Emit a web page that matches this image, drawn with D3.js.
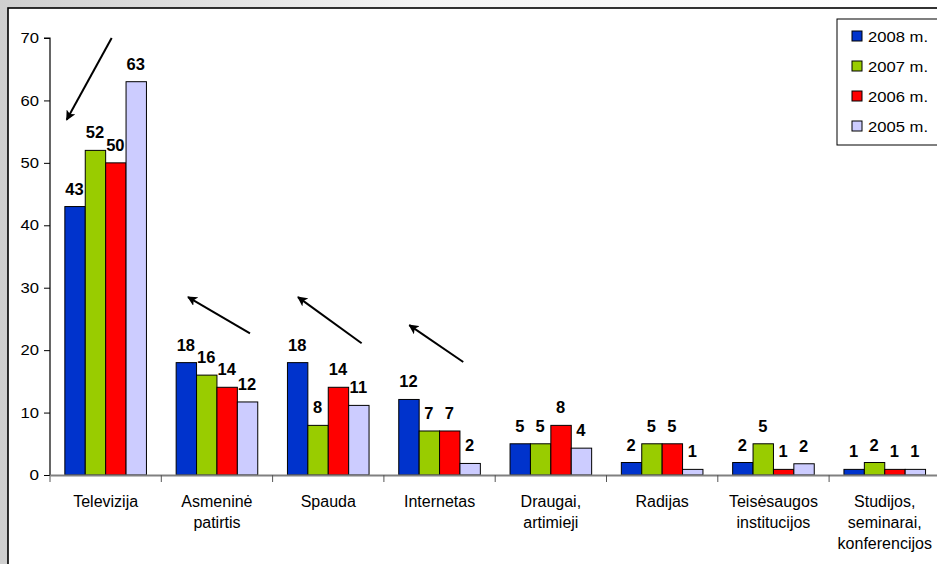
<!DOCTYPE html>
<html>
<head>
<meta charset="utf-8">
<script src="https://cdn.jsdelivr.net/npm/d3@7"></script>
<style>
  html, body { margin: 0; padding: 0; background: #fff; }
  svg { display: block; }
  text { font-family: Arial, "Liberation Sans", sans-serif; }
</style>
</head>
<body>
<svg id="chart" width="937" height="564"></svg>
<script>
// ---- data ----
const categories = ["Televizija", "Asmeninė patirtis", "Spauda", "Internetas", "Draugai, artimieji", "Radijas", "Teisėsaugos institucijos", "Studijos, seminarai, konferencijos"];
const categoryLines = [["Televizija"], ["Asmeninė", "patirtis"], ["Spauda"], ["Internetas"], ["Draugai,", "artimieji"], ["Radijas"], ["Teisėsaugos", "institucijos"], ["Studijos,", "seminarai,", "konferencijos"]];
const seriesNames = ["2008 m.", "2007 m.", "2006 m.", "2005 m."];
const v2008 = [43, 18, 18, 12.1, 5, 2, 2, 0.9];
const v2007 = [52, 16, 7.95, 7.05, 5, 5, 5, 2];
const v2006 = [50, 14.05, 14.05, 7.05, 7.95, 5, 0.9, 0.9];
const v2005 = [63, 11.7, 11.15, 1.85, 4.3, 0.9, 1.8, 0.9];
const seriesColors = ["#0033CC", "#99CC00", "#FF0000", "#CCCCFF"];
const yTicks = [0, 10, 20, 30, 40, 50, 60, 70];
// annotation arrows: category, fraction across band, value
const arrowCats = ["Televizija", "Asmeninė patirtis", "Spauda", "Internetas"];
const arrowFrom = [[0.554, 70.0], [0.797, 22.7], [0.80, 21.1], [0.713, 18.1]];
const arrowTo = [[0.15, 56.9], [0.24, 28.5], [0.228, 28.5], [0.228, 24.0]];

const seriesValues = [v2008, v2007, v2006, v2005];

const svg = d3.select("#chart");
const W = 937, H = 564;

// background gradient outside frame
const defs = svg.append("defs");
const grad = defs.append("linearGradient").attr("id", "bg").attr("x1", "0").attr("x2", "1").attr("y1", "0").attr("y2", "0");
grad.append("stop").attr("offset", "0").attr("stop-color", "#cfcfcf");
grad.append("stop").attr("offset", "0.45").attr("stop-color", "#f4f4f4");
grad.append("stop").attr("offset", "1").attr("stop-color", "#ffffff");
defs.append("marker").attr("id", "arrowhead").attr("viewBox", "0 0 10 10")
  .attr("refX", 9).attr("refY", 5).attr("markerWidth", 5).attr("markerHeight", 5)
  .attr("markerUnits", "strokeWidth").attr("orient", "auto")
  .append("path").attr("d", "M0,0 L10,5 L0,10 L2.5,5 Z").attr("fill", "#000");

svg.append("rect").attr("x", 0).attr("y", 0).attr("width", W).attr("height", H).attr("fill", "url(#bg)");
// chart frame
svg.append("rect").attr("x", 8).attr("y", 8).attr("width", 960).attr("height", 600)
  .attr("fill", "#fff").attr("stroke", "#000").attr("stroke-width", 1.6);

// scales
const x0 = d3.scaleBand().domain(categories).range([50, 50 + 8 * 111.3]).paddingInner(0).paddingOuter(0);
const x1 = d3.scaleBand().domain(seriesNames).range([0, x0.bandwidth()]).paddingInner(0).paddingOuter(0.728);
const y = d3.scaleLinear().domain([0, 70]).range([475, 38]);

// y axis
const yAxis = svg.append("g").attr("transform", "translate(50,0)")
  .call(d3.axisLeft(y).tickValues(yTicks).tickSize(6).tickPadding(5).tickFormat(d3.format("d")));
yAxis.select(".domain").attr("stroke", "#000").attr("stroke-width", 1.2).attr("d", `M-6,${y(70)}H0V${y(0)}`);
yAxis.selectAll(".tick line").attr("stroke", "#000");
yAxis.selectAll(".tick text").attr("font-size", 14.5).attr("fill", "#000")
  .attr("font-family", "Arial, 'Liberation Sans', sans-serif")
  .attr("textLength", d => d === 0 ? 9.5 : 18.5).attr("lengthAdjust", "spacingAndGlyphs");

// bars
const groups = svg.append("g").selectAll("g").data(categories).join("g")
  .attr("transform", d => `translate(${x0(d)},0)`);
groups.selectAll("rect").data((c, ci) => seriesNames.map((s, si) => ({ s, si, v: seriesValues[si][ci] })))
  .join("rect")
  .attr("x", d => x1(d.s)).attr("width", x1.bandwidth())
  .attr("y", d => y(d.v)).attr("height", d => y(0) - y(d.v))
  .attr("fill", d => seriesColors[d.si]).attr("stroke", "#000").attr("stroke-width", 1);
groups.selectAll("text.val").data((c, ci) => seriesNames.map((s, si) => ({ s, si, v: seriesValues[si][ci] })))
  .join("text").attr("class", "val")
  .attr("x", d => x1(d.s) + x1.bandwidth() / 2 - 0.5).attr("y", d => y(d.v) - 12)
  .attr("text-anchor", "middle").attr("font-size", 16.5).attr("font-weight", "bold").attr("fill", "#000")
  .text(d => d3.format(".0f")(d.v));

// x axis
const xAxis = svg.append("g").attr("transform", `translate(0,${y(0)})`)
  .call(d3.axisBottom(x0).tickSize(0).tickFormat(""));
xAxis.select(".domain").attr("stroke", "#808080").attr("stroke-width", 2);
const boundaries = categories.map(c => x0(c));
svg.append("g").selectAll("line").data(boundaries).join("line")
  .attr("x1", d => d).attr("x2", d => d).attr("y1", y(0)).attr("y2", y(0) + 7)
  .attr("stroke", "#555").attr("stroke-width", 1);

// category labels
const catLabels = svg.append("g").selectAll("text").data(categories).join("text")
  .attr("x", d => x0(d) + x0.bandwidth() / 2).attr("y", 507)
  .attr("text-anchor", "middle").attr("font-size", 16).attr("fill", "#000");
catLabels.each(function (d, i) {
  const t = d3.select(this);
  categoryLines[i].forEach((line, li) => {
    t.append("tspan").attr("x", x0(d) + x0.bandwidth() / 2).attr("y", 507 + li * 20.8).text(line);
  });
});

// annotation arrows
svg.append("g").selectAll("line").data(arrowCats).join("line")
  .attr("x1", (c, i) => x0(c) + arrowFrom[i][0] * x0.bandwidth())
  .attr("y1", (c, i) => y(arrowFrom[i][1]))
  .attr("x2", (c, i) => x0(c) + arrowTo[i][0] * x0.bandwidth())
  .attr("y2", (c, i) => y(arrowTo[i][1]))
  .attr("stroke", "#000").attr("stroke-width", 2).attr("marker-end", "url(#arrowhead)");

// legend
const legend = svg.append("g");
legend.append("rect").attr("x", 837).attr("y", 19).attr("width", 120).attr("height", 126)
  .attr("fill", "#fff").attr("stroke", "#000").attr("stroke-width", 1);
const li = legend.selectAll("g").data(seriesNames).join("g")
  .attr("transform", (d, i) => `translate(852,${36 + i * 30})`);
li.append("rect").attr("x", 0).attr("y", -5).attr("width", 10).attr("height", 10)
  .attr("fill", (d, i) => seriesColors[i]).attr("stroke", "#000").attr("stroke-width", 1);
li.append("text").attr("x", 16).attr("y", 5.5).attr("font-size", 15).attr("fill", "#000")
  .attr("textLength", 60).attr("lengthAdjust", "spacingAndGlyphs").text(d => d);
</script>
</body>
</html>
